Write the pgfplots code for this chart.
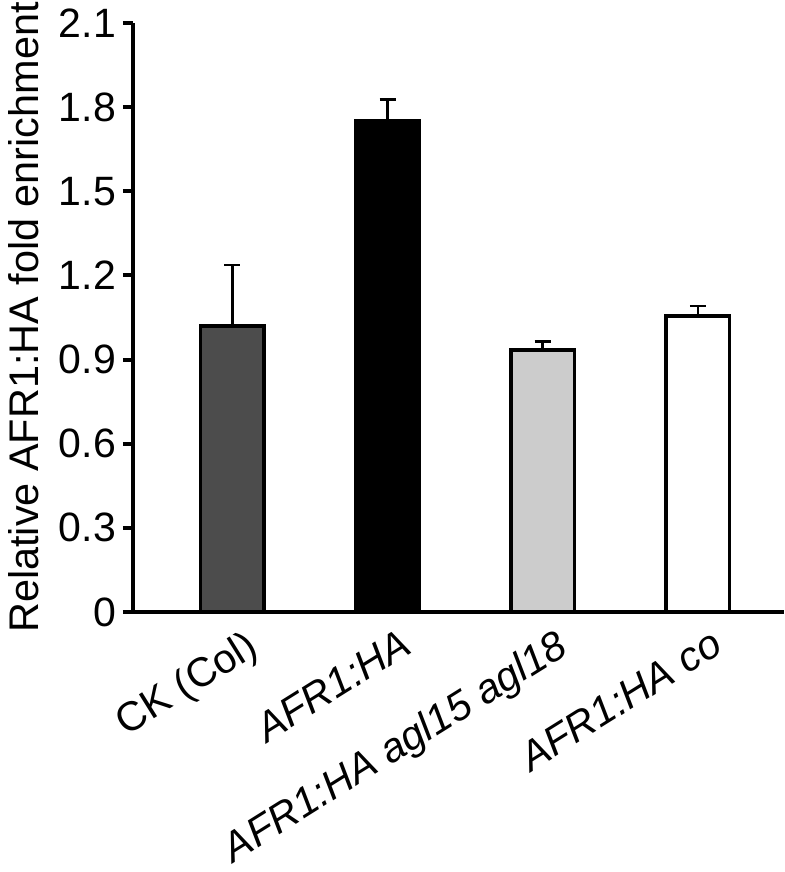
\documentclass[border=0pt]{standalone}
\usepackage{pgfplots}
\pgfplotsset{compat=1.18}
\usepackage{fontspec}
\setmainfont{Liberation Sans}
\begin{document}
\begin{tikzpicture}
\begin{axis}[
  name=ax,
  scale only axis,
  width=325.5pt, height=294.5pt,
  xmin=-0.64, xmax=3.555,
  ymin=0, ymax=2.1,
  axis x line*=bottom, axis y line*=left,
  axis line style={line width=2pt,-},
  ytick={0,0.3,0.6,0.9,1.2,1.5,1.8,2.1},
  yticklabels={0,0.3,0.6,0.9,1.2,1.5,1.8,2.1},
  ytick style={line width=2pt,black},
  tick align=outside,
  major tick length=5pt,
  xtick={0,1,2,3},
  xticklabels={CK (Col),\textit{AFR1:HA},\textit{AFR1:HA agl15 agl18},\textit{AFR1:HA co}},
  xtick style={draw=none},
  x tick label style={rotate=32, anchor=north east, font=\fontsize{20.5}{24}\selectfont, xshift=7pt, yshift=-2pt},
  y tick label style={font=\fontsize{20.5}{24}\selectfont},
  ylabel={Relative AFR1:HA fold enrichment},
  ylabel style={font=\fontsize{20.7}{24}\selectfont, yshift=3pt},
  ybar, bar width=0.41, bar shift=0pt,
  error bars/y dir=plus, error bars/y explicit,
  error bars/error bar style={line width=1.3pt,black},
  error bars/error mark options={rotate=90,mark size=4pt,line width=1.3pt,black},
  clip=false,
]
\addplot[fill=black!70, draw=black, line width=1.8pt] coordinates {(0,1.02) +- (0,0.217)};
\addplot[fill=black, draw=black, line width=1.8pt] coordinates {(1,1.752) +- (0,0.076)};
\addplot[fill=black!20, draw=black, line width=1.8pt] coordinates {(2,0.934) +- (0,0.030)};
\addplot[fill=white, draw=black, line width=1.8pt] coordinates {(3,1.055) +- (0,0.036)};
\end{axis}
\pgfresetboundingbox
\path (ax.south west) ++(-66.5pt,-130pt) rectangle ++(392pt,436pt);
\end{tikzpicture}
\end{document}
